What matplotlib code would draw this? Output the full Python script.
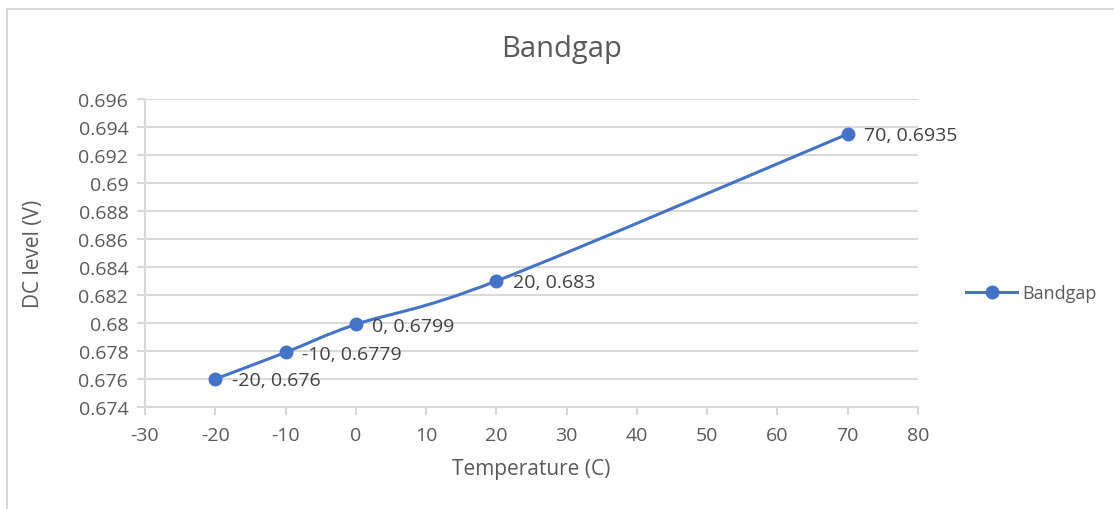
import numpy as np
import matplotlib.pyplot as plt
from matplotlib.path import Path
from matplotlib.patches import PathPatch
from matplotlib.lines import Line2D

plt.rcParams['font.family'] = ['Open Sans', 'DejaVu Sans']
plt.rcParams['axes.unicode_minus'] = False

# data
temps = [-20, -10, 0, 20, 70]
dc_level = [0.676, 0.6779, 0.6799, 0.683, 0.6935]
labels = ['-20, 0.676', '-10, 0.6779', '0, 0.6799', '20, 0.683', '70, 0.6935']

blue = '#4472c4'
grey = '#595959'
grid = '#d9d9d9'

fig = plt.figure(figsize=(11.14, 5.10), dpi=100)
ax = fig.add_axes([145/1114, 1 - 408/510, (918 - 145)/1114, (408 - 100)/510])

# chart border (excel style)
fig.add_artist(plt.Rectangle((7/1114, -0.1), 1.2, 1 - 10/510 + 0.1, fill=False,
                             edgecolor=grid, linewidth=1.5, transform=fig.transFigure))

# smoothed line like excel (catmull-rom -> bezier)
x = np.array(temps, dtype=float)
y = np.array(dc_level)
verts = [(x[0], y[0])]
codes = [Path.MOVETO]
n = len(x)
for i in range(n - 1):
    p0 = (x[max(i - 1, 0)], y[max(i - 1, 0)])
    p1 = (x[i], y[i])
    p2 = (x[i + 1], y[i + 1])
    p3 = (x[min(i + 2, n - 1)], y[min(i + 2, n - 1)])
    c1 = (p1[0] + (p2[0] - p0[0]) / 6, p1[1] + (p2[1] - p0[1]) / 6)
    c2 = (p2[0] - (p3[0] - p1[0]) / 6, p2[1] - (p3[1] - p1[1]) / 6)
    verts += [c1, c2, p2]
    codes += [Path.CURVE4] * 3
ax.add_patch(PathPatch(Path(verts, codes), fill=False, edgecolor=blue, linewidth=2.2, zorder=3))
ax.plot(temps, dc_level, 'o', color=blue, markersize=9, zorder=4)

for t, v, s in zip(temps, dc_level, labels):
    ax.annotate(s, (t, v), xytext=(12, -1), textcoords='offset points',
                va='center', ha='left', fontsize=14, color='#404040')

ax.set_xlim(-30, 80)
ax.set_ylim(0.674, 0.696)
ax.set_xticks(np.arange(-30, 81, 10))
yt = np.arange(0.674, 0.6961, 0.002)
ax.set_yticks(yt)
ax.set_yticklabels(['%g' % round(v, 3) for v in yt])
ax.grid(axis='y', color=grid, linewidth=1.5)
ax.set_axisbelow(True)
for s in ['top', 'right']:
    ax.spines[s].set_visible(False)
for s in ['left', 'bottom']:
    ax.spines[s].set_color(grid)
    ax.spines[s].set_linewidth(1.5)
ax.tick_params(colors=grey, labelsize=14, length=6, width=1.5)
ax.tick_params(axis='x', pad=8)
ax.tick_params(axis='y', pad=6)
ax.tick_params(axis='both', color=grid)

fig.text(562/1114, 1 - 50/510, 'Bandgap', fontsize=21, color=grey, ha='center', va='center')
ax.set_xlabel('Temperature (C)', fontsize=15, color=grey, labelpad=10)
ax.set_ylabel('DC level (V)', fontsize=15, color=grey, labelpad=25)

handle = Line2D([], [], color=blue, marker='o', markersize=9, linewidth=2.2)
fig.legend([handle], ['Bandgap'], loc='center left', bbox_to_anchor=(950/1114, 1 - 294/510),
           frameon=False, fontsize=13, labelcolor=grey, handlelength=2.8, handletextpad=0.3)

fig.savefig('out.png', dpi=100)
